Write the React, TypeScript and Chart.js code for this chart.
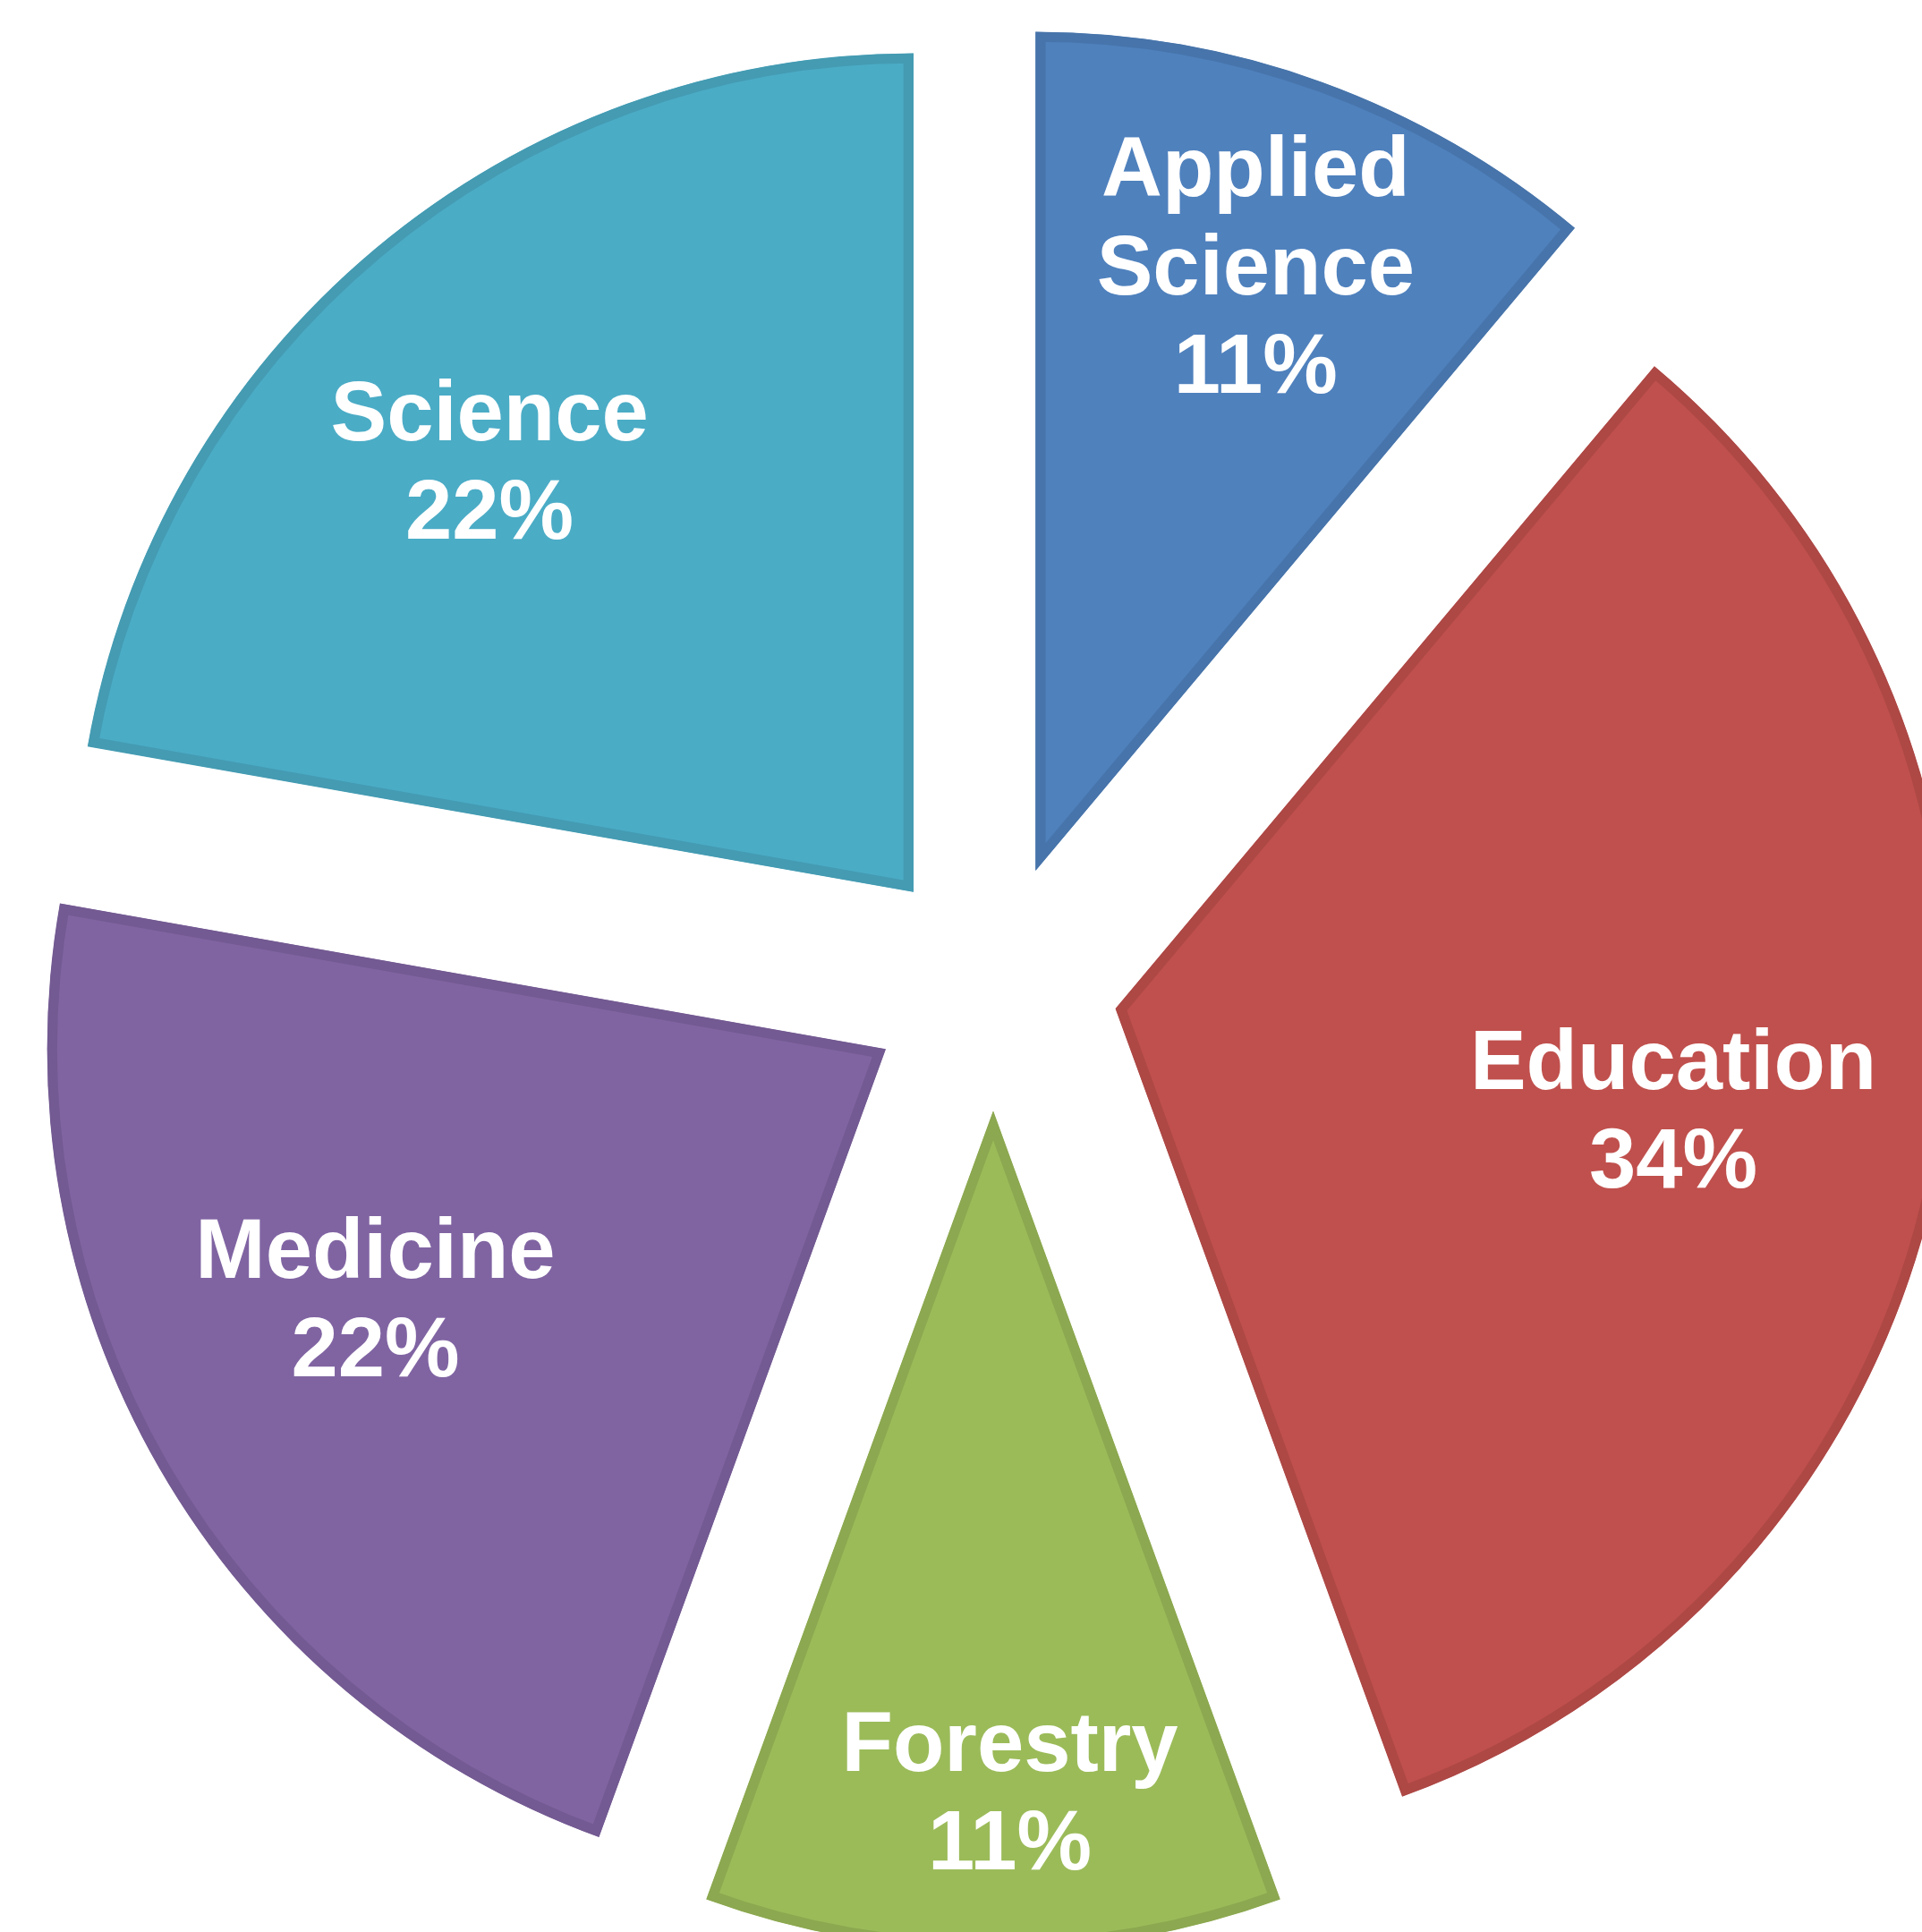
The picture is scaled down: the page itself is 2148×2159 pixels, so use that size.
import React, { useEffect, useRef } from "react";
import { Chart, ArcElement, PieController } from "chart.js";

Chart.register(ArcElement, PieController);

// ---- data ----
const categories = ["Applied Science", "Education", "Forestry", "Medicine", "Science"];
const categoryLines = [["Applied", "Science"], ["Education"], ["Forestry"], ["Medicine"], ["Science"]];
const shares = [1, 3, 1, 2, 2];
const percentLabels = ["11%", "34%", "11%", "22%", "22%"];

// ---- styles ----
const fillColors = ["#4F81BD", "#C0504D", "#9BBB59", "#8064A2", "#4BACC6"];
const borderColors = ["#4774AA", "#AD4845", "#8CA850", "#735A92", "#449BB2"];

const CANVAS_W = 2220;
const CANVAS_H = 2206;
const RADIUS = 937;
const EXPLODE = 139;
const BORDER = 11;
const FONT = 'bold 94px "Liberation Sans", Arial, sans-serif';
const LINE_H = 110;
const LABEL_NUDGE_Y = 6;
const LABEL_RADIUS = [0.767, 0.676, 0.811, 0.677, 0.721];
const LABEL_ANGLE_SHIFT_DEG = [0, 0.3, -1.4, 4, -4.5];

const explodePlugin = {
  id: "explodeSlices",
  afterDatasetUpdate(chart: any, args: any) {
    args.meta.data.forEach((arc: any) => {
      const mid = (arc.startAngle + arc.endAngle) / 2;
      arc.x += Math.cos(mid) * EXPLODE;
      arc.y += Math.sin(mid) * EXPLODE;
    });
  },
};

const labelPlugin = {
  id: "sliceLabels",
  afterDatasetsDraw(chart: any) {
    const ctx = chart.ctx as CanvasRenderingContext2D;
    const meta = chart.getDatasetMeta(0);
    ctx.save();
    ctx.font = FONT;
    ctx.fillStyle = "#FFFFFF";
    ctx.textAlign = "center";
    ctx.textBaseline = "middle";
    meta.data.forEach((arc: any, i: number) => {
      const mid = (arc.startAngle + arc.endAngle) / 2 + (LABEL_ANGLE_SHIFT_DEG[i] * Math.PI) / 180;
      const r = arc.outerRadius * LABEL_RADIUS[i];
      const cx = arc.x + Math.cos(mid) * r;
      const cy = arc.y + Math.sin(mid) * r + LABEL_NUDGE_Y;
      const lines = [...categoryLines[i], percentLabels[i]];
      const top = cy - ((lines.length - 1) * LINE_H) / 2;
      lines.forEach((t, k) => ctx.fillText(t, cx, top + k * LINE_H));
    });
    ctx.restore();
  },
};

export default function App() {
  const ref = useRef<HTMLCanvasElement | null>(null);
  useEffect(() => {
    if (!ref.current) return;
    const chart = new Chart(ref.current, {
      type: "pie",
      data: {
        labels: categories,
        datasets: [
          {
            data: shares,
            backgroundColor: fillColors,
            borderColor: borderColors,
            borderWidth: BORDER,
            borderAlign: "inner",
          } as any,
        ],
      },
      options: {
        animation: false,
        responsive: false,
        events: [],
        radius: RADIUS,
        layout: { padding: 0 },
        plugins: { legend: { display: false }, tooltip: { enabled: false } },
      } as any,
      plugins: [explodePlugin, labelPlugin],
    });
    return () => chart.destroy();
  }, []);
  return (
    <div
      style={{
        position: "fixed",
        left: 0,
        top: 0,
        width: 2148,
        height: 2159,
        overflow: "hidden",
        background: "#FFFFFF",
      }}
    >
      <canvas
        ref={ref}
        width={CANVAS_W}
        height={CANVAS_H}
        style={{ position: "absolute", left: 0, top: 0, width: CANVAS_W, height: CANVAS_H }}
      />
    </div>
  );
}
